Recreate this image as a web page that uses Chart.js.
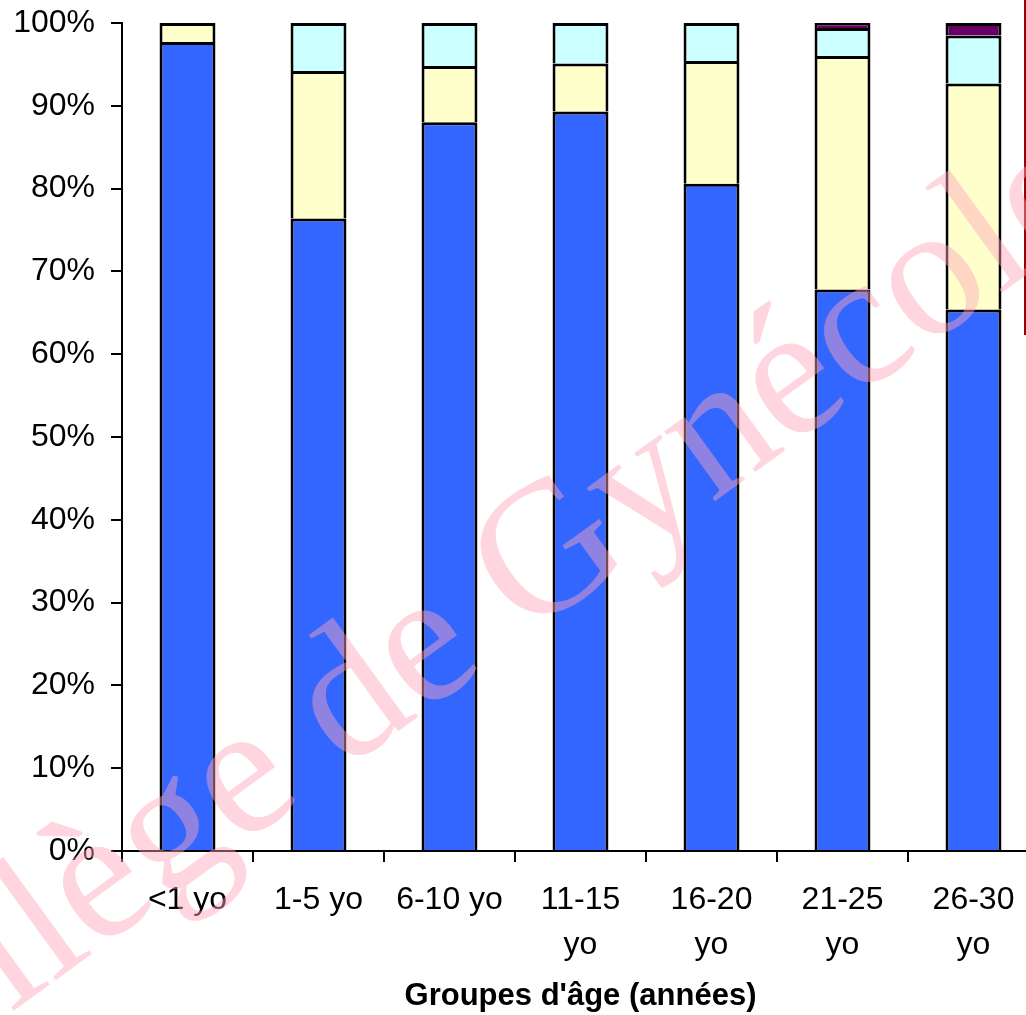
<!DOCTYPE html>
<html>
<head>
<meta charset="utf-8">
<script src="https://cdn.jsdelivr.net/npm/chart.js@4/dist/chart.umd.min.js"></script>
<style>
  html, body { margin: 0; padding: 0; background: #fff; overflow: hidden; }
  #wrap { width: 1040px; height: 1015px; position: relative; }
</style>
</head>
<body>
<div id="wrap"><canvas id="c"></canvas></div>
<script>
// Categories (age groups)
const categories = [["<1 yo"], ["1-5 yo"], ["6-10 yo"], ["11-15", "yo"], ["16-20", "yo"], ["21-25", "yo"], ["26-30", "yo"]];
// Series values (percent of each age group)
const seriesBlue   = [97.7, 76.4, 88.0, 89.3, 80.6, 67.8, 65.4];
const seriesYellow = [2.3, 17.8, 6.8, 5.8, 14.8, 28.2, 27.3];
const seriesCyan   = [0, 5.8, 5.2, 4.9, 4.6, 3.4, 5.8];
const seriesPurple = [0, 0, 0, 0, 0, 0.6, 1.5];
// Y tick values
const yTickMin = 0, yTickMax = 100, yTickStep = 10;
const xTitle = "Groupes d'âge (années)";
const watermark = "Collège de Gynécologie";

const watermarkPlugin = {
  id: 'watermark',
  afterDraw(chart) {
    const ctx = chart.ctx;
    ctx.save();
    // dark red vertical border (partially visible legend box)
    ctx.strokeStyle = '#A00000';
    ctx.lineWidth = 2;
    ctx.beginPath();
    ctx.moveTo(1025, 0);
    ctx.lineTo(1025, 335);
    ctx.stroke();
    // watermark text
    ctx.translate(-167, 1142);
    ctx.rotate(-36 * Math.PI / 180);
    ctx.font = '188px "Liberation Serif", "Times New Roman", serif';
    ctx.fillStyle = 'rgba(255,164,187,0.45)';
    ctx.textAlign = 'left';
    ctx.textBaseline = 'alphabetic';
    ctx.fillText(watermark, 0, 0);
    ctx.restore();
  }
};

const mk = (data, color) => ({
  data: data.map(v => (v === 0 ? null : v)),
  backgroundColor: color, borderColor: '#000', borderWidth: 3,
  borderSkipped: 'start', barPercentage: 0.427, categoryPercentage: 1
});

new Chart(document.getElementById('c'), {
  type: 'bar',
  data: {
    labels: categories,
    datasets: [
      mk(seriesBlue, '#3366FF'),
      mk(seriesYellow, '#FFFFCC'),
      mk(seriesCyan, '#CCFFFF'),
      mk(seriesPurple, '#660066')
    ]
  },
  options: {
    responsive: true,
    maintainAspectRatio: false,
    animation: false,
    layout: { padding: { top: 23, right: 1, left: 0, bottom: 0 } },
    plugins: { legend: { display: false }, tooltip: { enabled: false } },
    scales: {
      x: {
        stacked: true,
        grid: { display: true, drawOnChartArea: false, drawTicks: true, tickLength: 11, color: '#000', lineWidth: 2, offset: true },
        border: { display: true, color: '#000', width: 2 },
        ticks: {
          color: '#000', padding: 16, maxRotation: 0, autoSkip: false,
          font: { family: '"Liberation Sans", Arial, sans-serif', size: 32, lineHeight: 1.4 }
        },
        title: {
          display: true, text: xTitle, color: '#000',
          font: { family: '"Liberation Sans", Arial, sans-serif', size: 31, weight: 'bold' },
          padding: { top: 0, bottom: 0 }
        },
        afterFit(scale) { scale.height = 164; scale.paddingLeft = 0; scale.paddingRight = 0; }
      },
      y: {
        stacked: true,
        min: yTickMin, max: yTickMax,
        grid: { display: true, drawOnChartArea: false, drawTicks: true, tickLength: 11, color: '#000', lineWidth: 2 },
        border: { display: true, color: '#000', width: 2 },
        ticks: {
          stepSize: yTickStep, color: '#000', padding: 16,
          font: { family: '"Liberation Sans", Arial, sans-serif', size: 32 },
          callback: v => v + '%'
        },
        afterFit(scale) { scale.width = 122; scale.paddingTop = 0; scale.paddingBottom = 0; }
      }
    }
  },
  plugins: [watermarkPlugin]
});
</script>
</body>
</html>
